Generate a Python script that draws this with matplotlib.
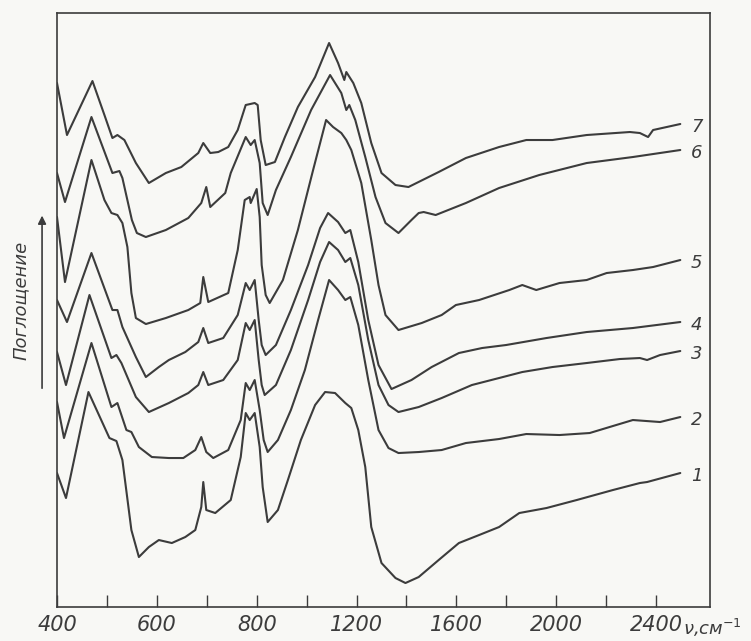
import numpy as np
import matplotlib
matplotlib.use("Agg")
import matplotlib.pyplot as plt

# wavenumber (cm-1) and absorption (arbitrary units)
nu_7 = [400, 420, 471, 495, 511, 521, 535, 558, 584, 618, 649, 683, 693, 707, 723, 743, 762, 778, 796, 804,
        816, 836, 873, 913, 965, 1034, 1090, 1126, 1151, 1159, 1187, 1219, 1259, 1300, 1356, 1408, 1529, 1638,
        1771, 1880, 1985, 2122, 2295, 2335, 2368, 2388, 2497]
a_7 = [52.4, 47.2, 52.6, 49.2, 46.9, 47.2, 46.7, 44.4, 42.4, 43.4, 44.0, 45.4, 46.4, 45.4, 45.5, 46.0, 47.7, 50.2,
       50.4, 50.2, 46.7, 44.2, 44.5, 47.0, 50.0, 53.0, 56.4, 54.4, 52.7, 53.5, 52.4, 50.4, 46.4, 43.4, 42.2, 42.0,
       43.5, 44.9, 46.0, 46.7, 46.7, 47.2, 47.5, 47.4, 47.0, 47.7, 48.3]

nu_6 = [400, 416, 469, 511, 525, 531, 550, 560, 578, 618, 663, 689, 699, 707, 737, 748, 778, 788, 796, 812,
        824, 844, 877, 937, 1018, 1094, 1139, 1159, 1171, 1195, 1235, 1276, 1316, 1368, 1420, 1449, 1469, 1517,
        1638, 1771, 1932, 2122, 2307, 2497]
a_6 = [43.4, 40.5, 49.0, 43.4, 43.6, 42.9, 38.7, 37.4, 37.0, 37.7, 38.9, 40.4, 42.0, 40.0, 41.4, 43.4, 47.0,
       46.2, 46.7, 44.4, 40.4, 39.2, 41.7, 45.0, 49.7, 53.2, 51.4, 49.7, 50.2, 48.7, 45.0, 41.0, 38.4, 37.4,
       38.7, 39.4, 39.5, 39.2, 40.4, 41.9, 43.2, 44.4, 45.0, 45.7]

nu_5 = [400, 416, 469, 495, 509, 521, 531, 541, 549, 558, 578, 618, 663, 687, 693, 703, 743, 762, 776, 786,
        788, 800, 812, 820, 836, 852, 905, 965, 1026, 1078, 1106, 1139, 1159, 1179, 1219, 1259, 1288, 1316,
        1368, 1461, 1541, 1598, 1691, 1812, 1864, 1920, 2013, 2122, 2202, 2307, 2388, 2497]
a_5 = [39.0, 32.5, 44.7, 40.7, 39.4, 39.2, 38.4, 36.0, 31.4, 28.9, 28.3, 28.9, 29.7, 30.4, 33.0, 30.5, 31.4,
       35.7, 40.7, 41.0, 40.4, 41.8, 39.0, 34.2, 31.2, 30.4, 32.7, 37.7, 43.7, 48.7, 48.0, 47.4, 46.7, 45.7,
       42.4, 36.7, 32.2, 29.2, 27.7, 28.4, 29.2, 30.2, 30.7, 31.7, 32.2, 31.7, 32.4, 32.7, 33.4, 33.7, 34.0, 34.7]

nu_4 = [400, 420, 469, 511, 521, 531, 558, 578, 604, 624, 657, 683, 693, 703, 733, 762, 778, 786, 796, 808,
        820, 836, 877, 937, 1006, 1054, 1086, 1126, 1155, 1175, 1207, 1247, 1288, 1340, 1420, 1501, 1610, 1703,
        1799, 1961, 2122, 2307, 2497]
a_4 = [30.7, 28.5, 35.4, 29.7, 29.7, 28.0, 25.0, 23.0, 24.0, 24.7, 25.5, 26.5, 27.9, 26.4, 26.9, 29.2, 32.4,
       31.7, 32.7, 28.7, 26.2, 25.2, 26.2, 29.7, 34.2, 37.9, 39.4, 38.5, 37.4, 37.7, 34.5, 28.7, 24.2, 21.8,
       22.7, 24.0, 25.4, 25.9, 26.2, 26.9, 27.5, 27.9, 28.5]

nu_3 = [400, 418, 465, 509, 519, 529, 558, 584, 624, 663, 683, 693, 703, 733, 762, 778, 786, 796, 808, 820,
        832, 877, 937, 1006, 1054, 1090, 1126, 1155, 1175, 1207, 1247, 1288, 1328, 1368, 1449, 1541, 1662, 1771,
        1864, 1985, 2122, 2255, 2335, 2364, 2416, 2497]
a_3 = [25.5, 22.2, 31.2, 24.9, 25.2, 24.4, 21.0, 19.5, 20.4, 21.4, 22.2, 23.5, 22.2, 22.7, 24.7, 28.4, 27.7,
       28.7, 24.7, 22.2, 21.2, 22.2, 25.7, 30.7, 34.5, 36.5, 35.7, 34.5, 34.9, 32.2, 26.7, 22.2, 20.2, 19.5,
       20.0, 20.9, 22.2, 22.9, 23.5, 24.0, 24.4, 24.8, 24.9, 24.7, 25.2, 25.6]

nu_2 = [400, 414, 469, 509, 521, 539, 549, 564, 590, 624, 653, 677, 689, 699, 713, 743, 768, 778, 786, 796,
        812, 828, 844, 885, 937, 993, 1046, 1090, 1126, 1155, 1175, 1207, 1247, 1288, 1328, 1368, 1449, 1541,
        1638, 1771, 1880, 2013, 2134, 2227, 2307, 2416, 2497]
a_2 = [20.5, 16.9, 26.4, 20.0, 20.4, 17.7, 17.5, 16.0, 15.0, 14.9, 14.9, 15.7, 17.0, 15.5, 14.9, 15.7, 18.7,
       22.4, 21.7, 22.7, 19.7, 16.7, 15.5, 16.7, 19.7, 23.7, 28.7, 32.7, 31.7, 30.7, 31.0, 28.2, 22.7, 17.7,
       15.9, 15.4, 15.5, 15.7, 16.4, 16.8, 17.3, 17.2, 17.4, 18.1, 18.7, 18.5, 19.0]

nu_1 = [400, 418, 463, 505, 519, 531, 549, 564, 584, 604, 630, 657, 677, 689, 693, 699, 717, 748, 768, 778,
        786, 796, 812, 824, 844, 885, 925, 977, 1034, 1074, 1114, 1155, 1179, 1207, 1235, 1259, 1300, 1356,
        1396, 1449, 1529, 1610, 1691, 1771, 1852, 1961, 2082, 2227, 2335, 2364, 2497]
a_1 = [13.4, 10.9, 21.5, 16.9, 16.6, 14.7, 7.7, 5.0, 6.0, 6.7, 6.4, 7.0, 7.7, 10.0, 12.5, 9.7, 9.4, 10.7, 15.0,
       19.4, 18.7, 19.4, 16.0, 12.0, 8.5, 9.7, 12.7, 16.7, 20.2, 21.5, 21.4, 20.4, 19.9, 17.7, 14.0, 8.0, 4.4,
       2.9, 2.4, 3.0, 4.7, 6.4, 7.2, 8.0, 9.4, 9.9, 10.7, 11.7, 12.4, 12.5, 13.4]

curves = [("1", nu_1, a_1), ("2", nu_2, a_2), ("3", nu_3, a_3), ("4", nu_4, a_4),
          ("5", nu_5, a_5), ("6", nu_6, a_6), ("7", nu_7, a_7)]

major_ticks = [400, 600, 800, 1200, 1600, 2000, 2400]
minor_ticks = [500, 700, 1000, 1400, 1800, 2200]


# the recorder halves its scale above 800 cm-1
def fwd(x):
    x = np.asarray(x, dtype=float)
    return np.where(x <= 800, x, 800 + (x - 800) / 2)


def inv(t):
    t = np.asarray(t, dtype=float)
    return np.where(t <= 800, t, 800 + (t - 800) * 2)


ink = "#3c3c3c"
paper = "#f8f8f5"

fig = plt.figure(figsize=(7.51, 6.41), dpi=100, facecolor=paper)
ax = fig.add_axes([0.0759, 0.053, 0.8695, 0.9267], facecolor=paper)
ax.set_xscale("function", functions=(fwd, inv))
ax.set_xlim(400, 2616)
ax.set_ylim(0, 59.4)

for name, nu, a in curves:
    ax.plot(nu, a, color=ink, lw=1.5, solid_joinstyle="round", solid_capstyle="round")
    ax.text(2540, a[-1] - 0.3, name, fontsize=13, style="italic", color=ink,
            ha="left", va="center")

for s in ax.spines.values():
    s.set_color(ink)
    s.set_linewidth(1.2)

ax.set_xticks(major_ticks)
ax.set_xticks(minor_ticks, minor=True)
ax.set_xticklabels([str(t) for t in major_ticks])
ax.tick_params(axis="x", which="both", direction="in", length=9, width=1, color=ink,
               labelsize=15, labelcolor=ink, pad=6)
for lab in ax.get_xticklabels():
    lab.set_style("italic")
ax.set_yticks([])

fig.text(0.909, 0.021, r"$\nu$,см$^{-1}$", fontsize=13, style="italic", color=ink,
         ha="left", va="center")

# y label with arrow
fig.text(0.028, 0.532, "Поглощение", rotation=90, fontsize=13, style="italic", color=ink,
         ha="center", va="center")
fig.add_artist(matplotlib.patches.FancyArrowPatch(
    (0.056, 0.39), (0.056, 0.668), transform=fig.transFigure, arrowstyle="-|>",
    mutation_scale=12, color=ink, lw=1.2))

fig.savefig("out.png", dpi=100, facecolor=paper)
